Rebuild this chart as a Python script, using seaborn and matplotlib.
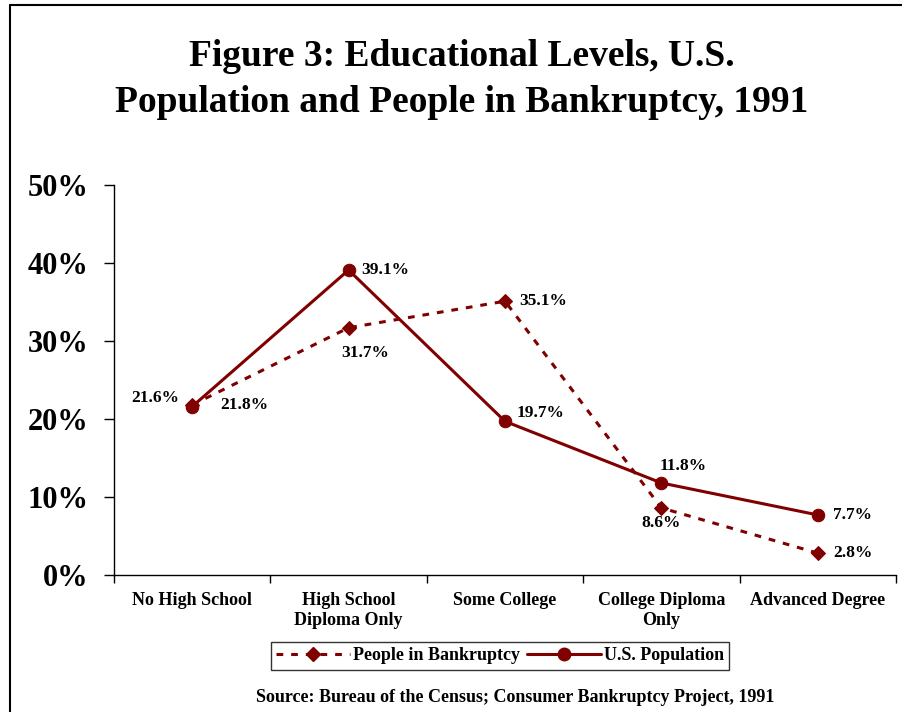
import matplotlib
matplotlib.use("Agg")
import matplotlib.pyplot as plt
import matplotlib.lines as mlines
import seaborn as sns
import pandas as pd

categories = ["No High School", "High School\nDiploma Only", "Some College",
              "College Diploma\nOnly", "Advanced Degree"]
bankruptcy = [21.8, 31.7, 35.1, 8.6, 2.8]
population = [21.6, 39.1, 19.7, 11.8, 7.7]
yticks = [0, 10, 20, 30, 40, 50]
ytick_labels = ["0%", "10%", "20%", "30%", "40%", "50%"]

sns.set_style("white")
plt.rcParams['font.family'] = ['Liberation Serif', 'DejaVu Serif']
plt.rcParams['font.weight'] = 'bold'
plt.rcParams['text.color'] = 'black'
plt.rcParams['xtick.color'] = 'black'
plt.rcParams['ytick.color'] = 'black'
plt.rcParams['axes.labelcolor'] = 'black'

W, H = 902, 712
fig = plt.figure(figsize=(W / 100, H / 100), dpi=100)
ax = fig.add_axes([114 / W, (H - 575) / H, (896 - 114) / W, (575 - 185) / H])

RED = "#800000"
pos = list(range(len(categories)))
df = pd.DataFrame({
    "pos": pos * 2,
    "value": bankruptcy + population,
    "series": ["People in Bankruptcy"] * 5 + ["U.S. Population"] * 5,
})

sns.lineplot(data=df, x="pos", y="value", hue="series", style="series",
             palette={"People in Bankruptcy": RED, "U.S. Population": RED},
             markers={"People in Bankruptcy": "D", "U.S. Population": "o"},
             dashes={"People in Bankruptcy": (2.2, 2.6), "U.S. Population": ""},
             linewidth=2.2, ax=ax, legend=False)
for ln in ax.lines:
    if ln.get_marker() == "D":
        ln.set_markersize(7)
    else:
        ln.set_markersize(9)
    ln.set_markeredgecolor(RED)
    ln.set_markerfacecolor(RED)

ax.set_xlim(-0.5, 4.5)
ax.set_ylim(0, 50)
ax.set_xlabel("")
ax.set_ylabel("")

for s in ["top", "right"]:
    ax.spines[s].set_visible(False)
for s in ["left", "bottom"]:
    ax.spines[s].set_color("black")
    ax.spines[s].set_linewidth(1.0)

ax.set_yticks(yticks)
ax.set_yticklabels(ytick_labels, fontsize=22, fontweight="bold", color="black")
ax.tick_params(axis="y", which="major", direction="out", length=7, width=1,
               color="black", pad=11, left=True)

ax.set_xticks(pos)
ax.set_xticklabels(categories, fontsize=13, fontweight="bold", linespacing=1.25,
                   color="black")
ax.set_xticks([p - 0.5 for p in pos] + [4.5], minor=True)
ax.tick_params(axis="x", which="major", length=0, pad=12)
ax.tick_params(axis="x", which="minor", direction="out", length=6, width=1,
               color="black", bottom=True)

# data labels (offsets in points)
bk_off = [(20, 0, "left"), (12, -18, "center"), (10, 0, "left"),
          (0, -11, "center"), (11, 0, "left")]
pop_off = [(-9, 6, "right"), (9, 0, "left"), (8, 6, "left"),
           (16, 12, "center"), (11, 0, "left")]
for i, v in enumerate(bankruptcy):
    dx, dy, ha = bk_off[i]
    ax.annotate(f"{v}%", (pos[i], v), xytext=(dx, dy), textcoords="offset points",
                ha=ha, va="center", fontsize=12.5, fontweight="bold", color="black")
for i, v in enumerate(population):
    dx, dy, ha = pop_off[i]
    ax.annotate(f"{v}%", (pos[i], v), xytext=(dx, dy), textcoords="offset points",
                ha=ha, va="center", fontsize=12.5, fontweight="bold", color="black")

# legend
h1 = mlines.Line2D([], [], color=RED, linewidth=2.2, dashes=(2.2, 2.6),
                   marker="D", markersize=7)
h2 = mlines.Line2D([], [], color=RED, linewidth=2.2, marker="o", markersize=9)
leg = fig.legend([h1, h2], ["People in Bankruptcy", "U.S. Population"],
                 loc="center", bbox_to_anchor=(500 / W, 1 - 656 / H), ncol=2,
                 prop={"family": "Liberation Serif", "weight": "bold", "size": 13},
                 frameon=True, fancybox=False, handlelength=4.1, handletextpad=0.15,
                 columnspacing=0.4, borderpad=0.3, borderaxespad=0)
leg.get_frame().set_edgecolor("black")
leg.get_frame().set_linewidth(1.0)
for t in leg.get_texts():
    t.set_color("black")

# title
fig.text(462 / W, 1 - 56 / H, "Figure 3: Educational Levels, U.S.", ha="center",
         va="center", fontsize=27, fontweight="bold", color="black")
fig.text(462 / W, 1 - 102 / H, "Population and People in Bankruptcy, 1991",
         ha="center", va="center", fontsize=27, fontweight="bold", color="black")

# source
fig.text(515 / W, 1 - 698 / H, "Source: Bureau of the Census; Consumer Bankruptcy Project, 1991",
         ha="center", va="center", fontsize=13, fontweight="bold", color="black")

# outer frame (top and left edges)
fig.add_artist(mlines.Line2D([10 / W, 1], [1 - 5 / H, 1 - 5 / H], color="black",
                             linewidth=1.5, transform=fig.transFigure))
fig.add_artist(mlines.Line2D([10 / W, 10 / W], [0, 1 - 5 / H], color="black",
                             linewidth=1.5, transform=fig.transFigure))

fig.savefig("out.png", dpi=100)
